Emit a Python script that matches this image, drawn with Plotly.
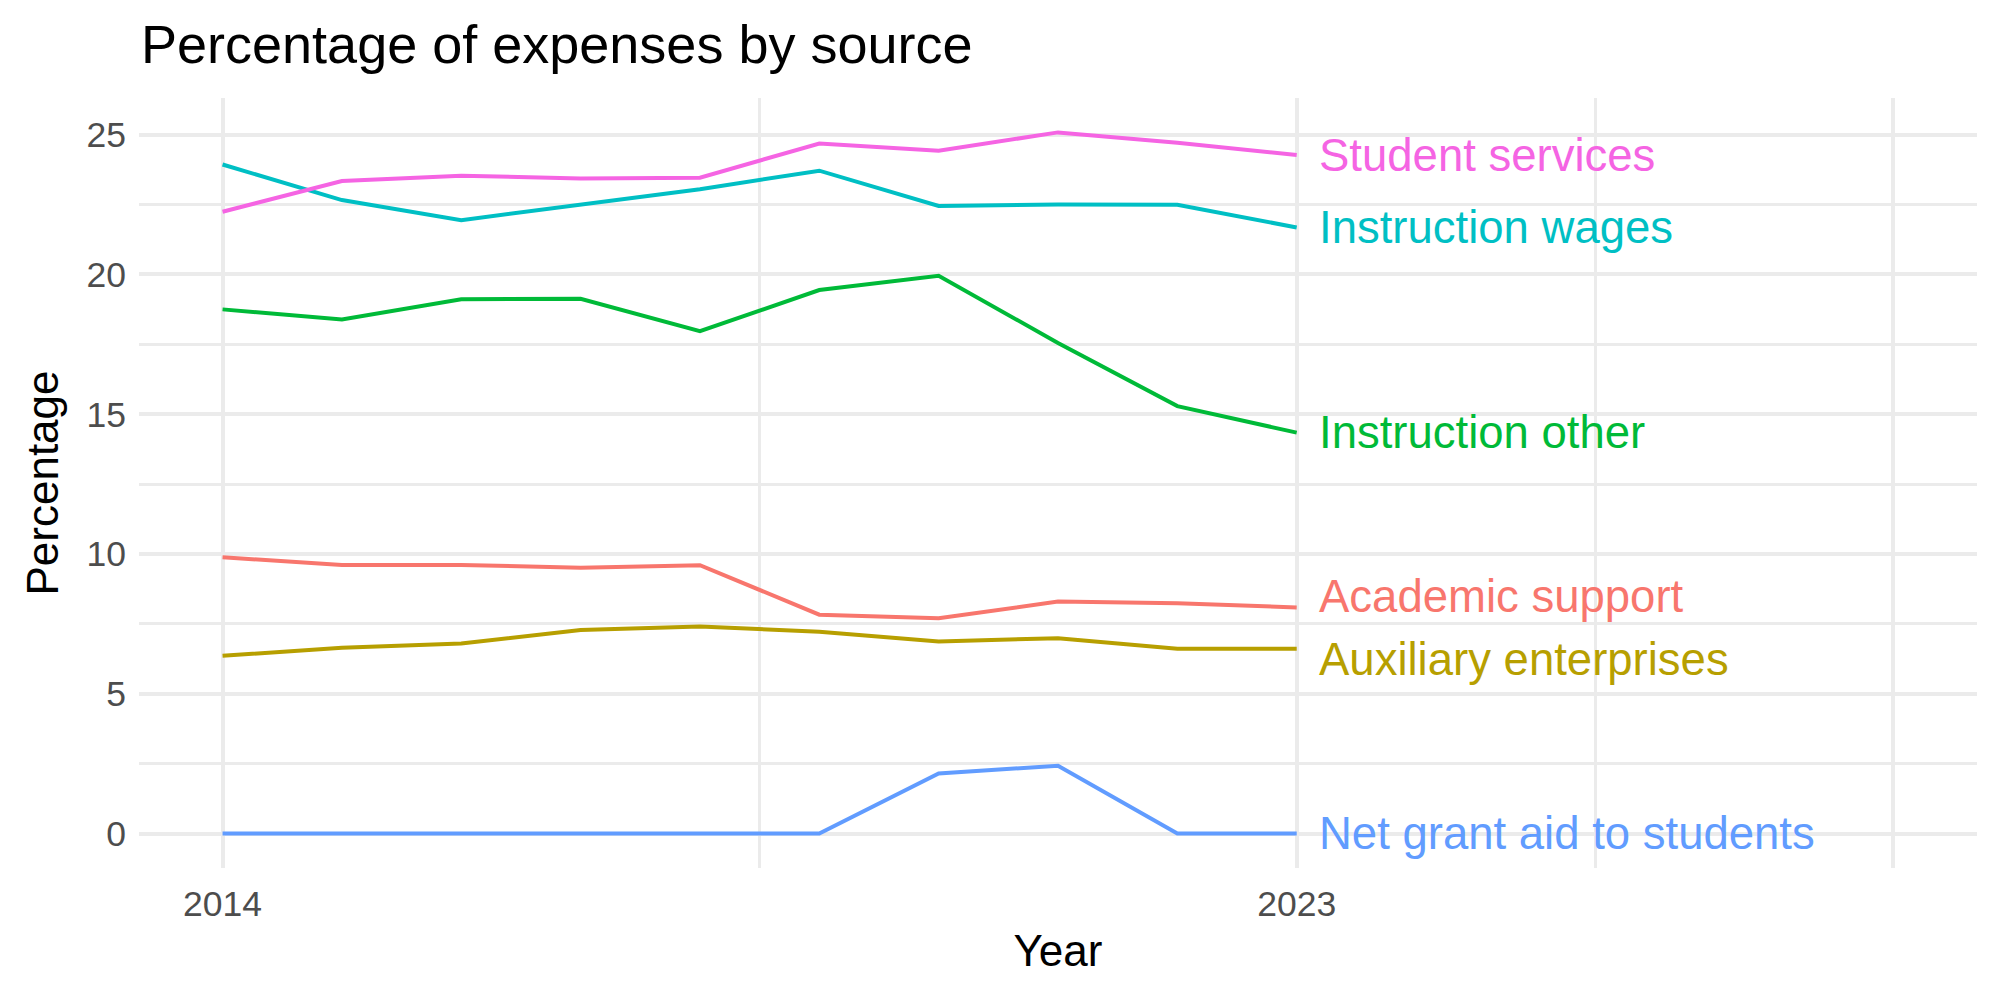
import plotly.graph_objects as go

years = [2014, 2015, 2016, 2017, 2018, 2019, 2020, 2021, 2022, 2023]

series_names = [
    "Academic support",
    "Auxiliary enterprises",
    "Instruction other",
    "Instruction wages",
    "Net grant aid to students",
    "Student services",
]
academic_support = [9.88, 9.61, 9.61, 9.51, 9.60, 7.83, 7.70, 8.30, 8.24, 8.09]
auxiliary_enterprises = [6.36, 6.65, 6.80, 7.28, 7.41, 7.22, 6.87, 6.99, 6.61, 6.61]
instruction_other = [18.75, 18.39, 19.11, 19.13, 17.97, 19.44, 19.95, 17.55, 15.29, 14.34]
instruction_wages = [23.93, 22.66, 21.94, 22.50, 23.05, 23.71, 22.45, 22.50, 22.49, 21.68]
net_grant_aid = [0, 0, 0, 0, 0, 0, 2.15, 2.43, 0, 0]
student_services = [22.24, 23.34, 23.53, 23.43, 23.46, 24.68, 24.42, 25.08, 24.71, 24.27]

colors = ["#F8766D", "#B79F00", "#00BA38", "#00BFC4", "#619CFF", "#F564E3"]

x_tickvals = [2014, 2023, 2028]
x_ticktext = ["2014", "2023", ""]
x_minor = [2018.5, 2025.5]
y_tickvals = [0, 5, 10, 15, 20, 25]
y_minor = [2.5, 7.5, 12.5, 17.5, 22.5]

all_values = [academic_support, auxiliary_enterprises, instruction_other,
              instruction_wages, net_grant_aid, student_services]

fig = go.Figure()
for name, vals, col in zip(series_names, all_values, colors):
    fig.add_trace(go.Scatter(x=years, y=vals, mode="lines", name=name,
                             line=dict(color=col, width=4), showlegend=False,
                             hoverinfo="skip"))

# simple label repel: keep end labels at least min_sep apart
min_sep = 2.25
ends = [v[-1] for v in all_values]
order = sorted(range(len(ends)), key=lambda i: ends[i])
pos = {i: ends[i] for i in order}
for _ in range(50):
    moved = False
    for a, b in zip(order[:-1], order[1:]):
        gap = pos[b] - pos[a]
        if gap < min_sep:
            d = (min_sep - gap) / 2
            pos[a] -= d
            pos[b] += d
            moved = True
    if not moved:
        break

for i, (name, col) in enumerate(zip(series_names, colors)):
    fig.add_annotation(x=years[-1], y=pos[i], text=name, xref="x", yref="y",
                       xanchor="left", yanchor="middle", xshift=20,
                       showarrow=False,
                       font=dict(family="Liberation Sans", size=45.5, color=col))

grid_major = "#EBEBEB"
fig.update_layout(
    width=2000, height=1000,
    margin=dict(l=139, r=23, t=98, b=132),
    paper_bgcolor="white", plot_bgcolor="white",
    font=dict(family="Liberation Sans", color="#000000"),
    title=dict(text="Percentage of expenses by source", x=0.0705, xanchor="left",
               xref="container", y=0.956, yref="container", yanchor="middle",
               font=dict(size=54, color="#000000")),
    xaxis=dict(
        range=[2013.3, 2028.7], tickmode="array", tickvals=x_tickvals,
        ticktext=x_ticktext, showgrid=True, gridcolor=grid_major, gridwidth=4,
        zeroline=False, showline=False, ticks="",
        tickfont=dict(size=35.5, color="#4D4D4D"), ticklabelstandoff=11,
        minor=dict(tickvals=x_minor, showgrid=True, gridcolor=grid_major, gridwidth=2.5),
        title=dict(text="Year", font=dict(size=44, color="#000000"), standoff=12),
    ),
    yaxis=dict(
        range=[-1.23, 26.31], tickmode="array", tickvals=y_tickvals,
        showgrid=True, gridcolor=grid_major, gridwidth=4,
        zeroline=False, showline=False, ticks="",
        tickfont=dict(size=35.5, color="#4D4D4D"), ticklabelstandoff=12,
        minor=dict(tickvals=y_minor, showgrid=True, gridcolor=grid_major, gridwidth=2.5),
        title=dict(text="Percentage", font=dict(size=44, color="#000000"), standoff=14),
    ),
)

fig.write_html("out.html")
